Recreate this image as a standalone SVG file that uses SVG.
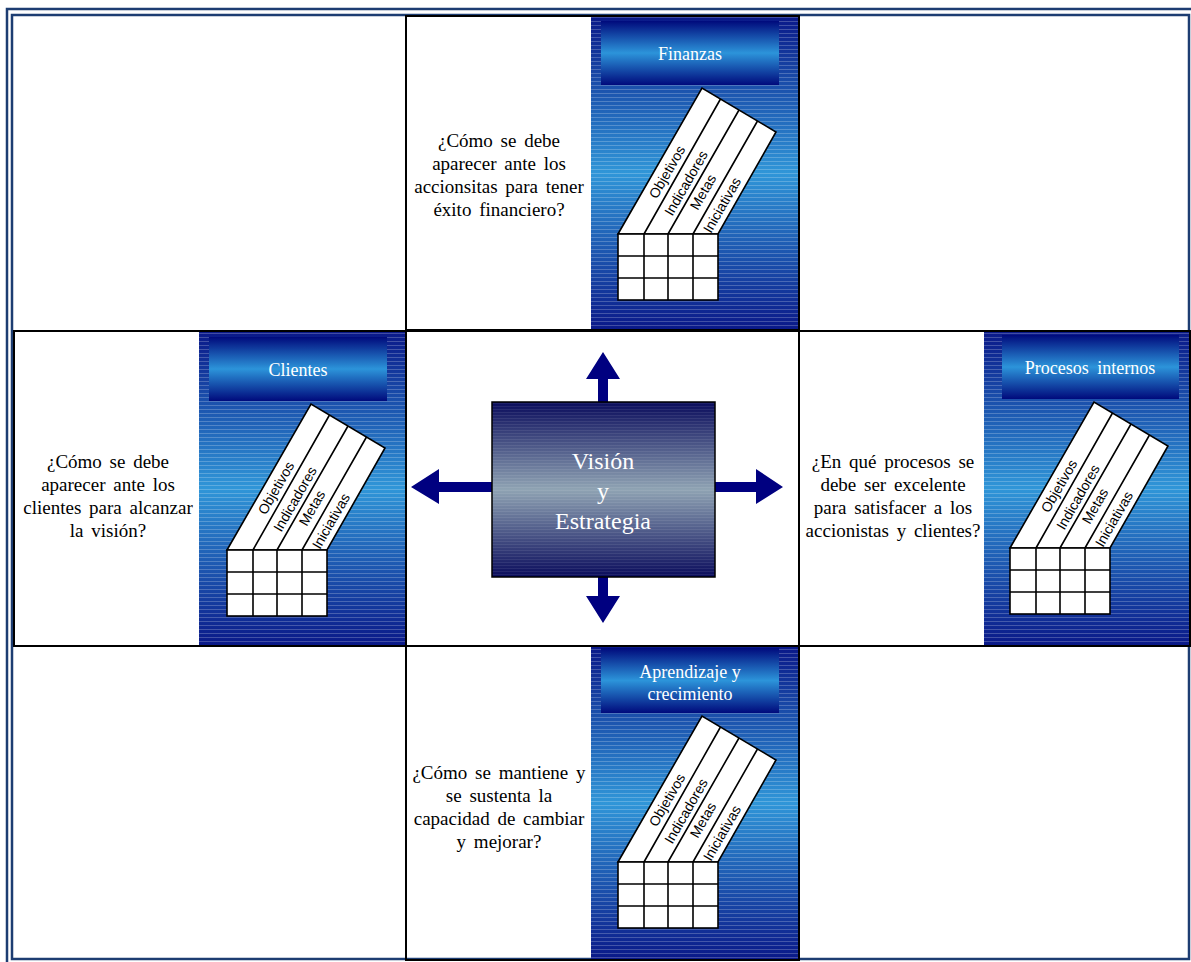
<svg xmlns="http://www.w3.org/2000/svg" width="1191" height="962" viewBox="0 0 1191 962">
<defs>
  <linearGradient id="gPanel" x1="0" y1="0" x2="0" y2="1">
    <stop offset="0" stop-color="#0a1888"/>
    <stop offset="0.5" stop-color="#3096d8"/>
    <stop offset="1" stop-color="#0a1888"/>
  </linearGradient>
  <linearGradient id="gTitle" x1="0" y1="0" x2="0" y2="1">
    <stop offset="0" stop-color="#000a7c"/>
    <stop offset="0.5" stop-color="#2c94da"/>
    <stop offset="1" stop-color="#000a7c"/>
  </linearGradient>
  <linearGradient id="gCenter" x1="0" y1="0" x2="0" y2="1">
    <stop offset="0" stop-color="#0a0c5c"/>
    <stop offset="0.5" stop-color="#8fa3b3"/>
    <stop offset="1" stop-color="#0a0c5c"/>
  </linearGradient>
  <pattern id="stripes" x="0" y="0" width="20" height="4" patternUnits="userSpaceOnUse">
    <rect x="0" y="1" width="20" height="1" fill="#ffffff" fill-opacity="0.22"/>
  </pattern>
  <pattern id="stripesC" x="0" y="0" width="20" height="3" patternUnits="userSpaceOnUse">
    <rect x="0" y="1" width="20" height="1" fill="#ffffff" fill-opacity="0.08"/>
  </pattern>
</defs>
<style>
  .frame { fill: none; stroke: #1d3d72; stroke-width: 2.5; }
  .box { fill: none; stroke: #000000; stroke-width: 2; }
  .blue { fill: url(#gPanel); }
  .str { fill: url(#stripes); }
  .title { fill: url(#gTitle); }
  .ttl { font-family: "Liberation Serif", "Times New Roman", serif; font-size: 18px; fill: #ffffff; text-anchor: middle; }
  .q { font-family: "Liberation Serif", "Times New Roman", serif; font-size: 19px; fill: #000000; text-anchor: middle; word-spacing: 3px; }
  .tb { fill: #ffffff; stroke: #000000; stroke-width: 1.6; stroke-linejoin: miter; }
  .ln { fill: none; stroke: #000000; stroke-width: 1.6; }
  .lbl { font-family: "Liberation Sans", Arial, sans-serif; font-size: 14px; fill: #000000; text-anchor: middle; }
  .vis { font-family: "Liberation Serif", "Times New Roman", serif; font-size: 24px; fill: #ffffff; text-anchor: middle; }
  .arr { fill: #000080; }
</style>

<rect x="0" y="0" width="1191" height="962" fill="#ffffff"/>

<g id="frame">
  <rect class="frame" x="7" y="9" width="1195" height="965"/>
  <rect class="frame" x="12" y="15" width="1177" height="944"/>
</g>

<g id="panel-finanzas">
  <rect class="blue" x="591" y="16" width="208" height="314"/>
  <rect class="str" x="591" y="16" width="208" height="314"/>
  <rect class="box" x="406" y="16" width="393" height="314"/>
  <rect class="title" x="601" y="21" width="178" height="64"/>
  <text class="ttl" x="690" y="60">Finanzas</text>
  <text class="q" x="499" y="147">¿Cómo se debe</text>
  <text class="q" x="499" y="170">aparecer ante los</text>
  <text class="q" x="499" y="193">accionsitas para tener</text>
  <text class="q" x="499" y="216">éxito financiero?</text>
  <g transform="translate(618,234)">
    <polygon class="tb" points="0,0 84,-146 158,-102 100,0"/>
    <path class="ln" d="M26,0 L102.5,-135 M50,0 L121,-124 M75,0 L139.5,-113"/>
    <rect class="tb" x="0" y="0" width="100" height="66"/>
    <path class="ln" d="M26,0 V66 M50,0 V66 M75,0 V66 M0,22 H100 M0,44 H100"/>
    <text class="lbl" transform="translate(49,-62) rotate(-60)" dy="0.35em">Objetivos</text>
    <text class="lbl" transform="translate(68,-51) rotate(-60)" dy="0.35em">Indicadores</text>
    <text class="lbl" transform="translate(85,-42) rotate(-60)" dy="0.35em">Metas</text>
    <text class="lbl" transform="translate(104,-29) rotate(-60)" dy="0.35em">Iniciativas</text>
  </g>
</g>

<g id="panel-clientes">
  <rect class="blue" x="199" y="331" width="207" height="315"/>
  <rect class="str" x="199" y="331" width="207" height="315"/>
  <rect class="box" x="14" y="331" width="392" height="315"/>
  <rect class="title" x="209" y="337" width="178" height="64"/>
  <text class="ttl" x="298" y="376">Clientes</text>
  <text class="q" x="108" y="468">¿Cómo se debe</text>
  <text class="q" x="108" y="491">aparecer ante los</text>
  <text class="q" x="108" y="514">clientes para alcanzar</text>
  <text class="q" x="108" y="537">la visión?</text>
  <g transform="translate(227,550)">
    <polygon class="tb" points="0,0 84,-146 158,-102 100,0"/>
    <path class="ln" d="M26,0 L102.5,-135 M50,0 L121,-124 M75,0 L139.5,-113"/>
    <rect class="tb" x="0" y="0" width="100" height="66"/>
    <path class="ln" d="M26,0 V66 M50,0 V66 M75,0 V66 M0,22 H100 M0,44 H100"/>
    <text class="lbl" transform="translate(49,-62) rotate(-60)" dy="0.35em">Objetivos</text>
    <text class="lbl" transform="translate(68,-51) rotate(-60)" dy="0.35em">Indicadores</text>
    <text class="lbl" transform="translate(85,-42) rotate(-60)" dy="0.35em">Metas</text>
    <text class="lbl" transform="translate(104,-29) rotate(-60)" dy="0.35em">Iniciativas</text>
  </g>
</g>

<g id="panel-procesos">
  <rect class="blue" x="984" y="331" width="206" height="315"/>
  <rect class="str" x="984" y="331" width="206" height="315"/>
  <rect class="box" x="799" y="331" width="391" height="315"/>
  <rect class="title" x="1002" y="335" width="177" height="64"/>
  <text class="ttl" x="1090" y="374" style="word-spacing:4px">Procesos internos</text>
  <text class="q" x="893" y="468">¿En qué procesos se</text>
  <text class="q" x="893" y="491">debe ser excelente</text>
  <text class="q" x="893" y="514">para satisfacer a los</text>
  <text class="q" x="893" y="537">accionistas y clientes?</text>
  <g transform="translate(1010,548)">
    <polygon class="tb" points="0,0 84,-146 158,-102 100,0"/>
    <path class="ln" d="M26,0 L102.5,-135 M50,0 L121,-124 M75,0 L139.5,-113"/>
    <rect class="tb" x="0" y="0" width="100" height="66"/>
    <path class="ln" d="M26,0 V66 M50,0 V66 M75,0 V66 M0,22 H100 M0,44 H100"/>
    <text class="lbl" transform="translate(49,-62) rotate(-60)" dy="0.35em">Objetivos</text>
    <text class="lbl" transform="translate(68,-51) rotate(-60)" dy="0.35em">Indicadores</text>
    <text class="lbl" transform="translate(85,-42) rotate(-60)" dy="0.35em">Metas</text>
    <text class="lbl" transform="translate(104,-29) rotate(-60)" dy="0.35em">Iniciativas</text>
  </g>
</g>

<g id="panel-aprendizaje">
  <rect class="blue" x="591" y="646" width="208" height="314"/>
  <rect class="str" x="591" y="646" width="208" height="314"/>
  <rect class="box" x="406" y="646" width="393" height="314"/>
  <rect class="title" x="601" y="648" width="178" height="65"/>
  <text class="ttl" x="690" y="678">Aprendizaje y</text>
  <text class="ttl" x="690" y="700">crecimiento</text>
  <text class="q" x="499" y="779">¿Cómo se mantiene y</text>
  <text class="q" x="499" y="802">se sustenta la</text>
  <text class="q" x="499" y="825">capacidad de cambiar</text>
  <text class="q" x="499" y="848">y mejorar?</text>
  <g transform="translate(618,862)">
    <polygon class="tb" points="0,0 84,-146 158,-102 100,0"/>
    <path class="ln" d="M26,0 L102.5,-135 M50,0 L121,-124 M75,0 L139.5,-113"/>
    <rect class="tb" x="0" y="0" width="100" height="66"/>
    <path class="ln" d="M26,0 V66 M50,0 V66 M75,0 V66 M0,22 H100 M0,44 H100"/>
    <text class="lbl" transform="translate(49,-62) rotate(-60)" dy="0.35em">Objetivos</text>
    <text class="lbl" transform="translate(68,-51) rotate(-60)" dy="0.35em">Indicadores</text>
    <text class="lbl" transform="translate(85,-42) rotate(-60)" dy="0.35em">Metas</text>
    <text class="lbl" transform="translate(104,-29) rotate(-60)" dy="0.35em">Iniciativas</text>
  </g>
</g>

<g id="panel-centro">
  <rect class="box" x="406" y="331" width="393" height="315"/>
</g>

<g id="connectors">
  <polygon class="arr" points="598,402 598,379 586,379 603,352 620,379 608,379 608,402"/>
  <polygon class="arr" points="598,577 598,596 586,596 603,623 620,596 608,596 608,577"/>
  <polygon class="arr" points="492,482 439,482 439,469 411,487 439,504 439,492 492,492"/>
  <polygon class="arr" points="715,482 756,482 756,469 783,487 756,504 756,492 715,492"/>
</g>

<g id="vision">
  <rect x="492" y="402" width="223" height="175" fill="url(#gCenter)"/>
  <rect x="492" y="402" width="223" height="175" fill="url(#stripesC)"/>
  <rect x="492" y="402" width="223" height="175" fill="none" stroke="#000000" stroke-width="1.5"/>
  <text class="vis" x="603" y="469">Visión</text>
  <text class="vis" x="603" y="499">y</text>
  <text class="vis" x="603" y="529">Estrategia</text>
</g>
</svg>
